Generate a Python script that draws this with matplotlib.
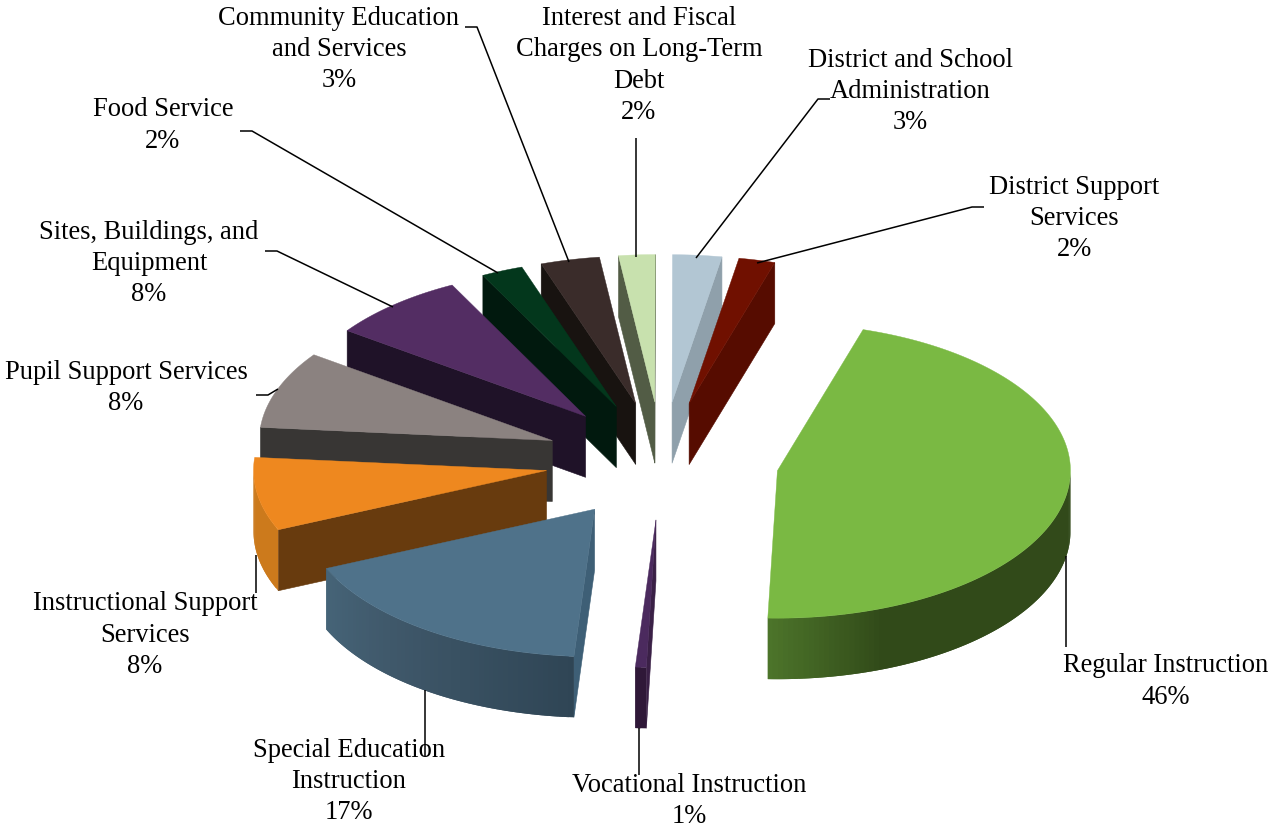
import numpy as np
import matplotlib
matplotlib.use("Agg")
import matplotlib.pyplot as plt
from matplotlib.collections import PolyCollection
from matplotlib.colors import to_rgb

# Budget shares in percent, clockwise from the first slice; labels show them rounded
categories = [
    "Regular Instruction", "Vocational Instruction",
    "Special Education\nInstruction", "Instructional Support\nServices",
    "Pupil Support Services", "Sites, Buildings, and\nEquipment",
    "Food Service", "Community Education\nand Services",
    "Interest and Fiscal\nCharges on Long-Term\nDebt",
    "District and School\nAdministration", "District Support\nServices",
]
shares = [45.8, 0.6, 17.3, 8.0, 8.45, 7.6, 2.3, 3.25, 2.0, 2.7, 2.0]

top_colors = ["#7AB943", "#4B2A5E", "#4F728A", "#EE881F", "#8B8280", "#532D63",
              "#03371C", "#3A2C2A", "#C8E1AE", "#B2C6D3", "#701000"]
side_colors = ["#314A19", "#3A2046", "#3E5F76", "#683B0E", "#383634", "#1F1228",
               "#01190E", "#181310", "#525C45", "#8FA0AB", "#560C00"]
# Colour ramps of the curved rim: (angle in degrees, colour)
rim_ramps = {
    0: [(90, "#324A1A"), (159, "#314A19"), (183, "#4E772B")],
    1: [(180, "#2F1838"), (190, "#2F1838")],
    2: [(184, "#2F4555"), (225, "#40596B"), (248, "#466579")],
    3: [(247, "#CC7A1C"), (276, "#CC7A1C")],
}

# Pie projection, in canvas pixels
FIRST_ANGLE = 17.0
CENTER_X, CENTER_Y = 662.0, 461.0
RADIUS_X, RADIUS_Y = 293.0, 147.5
EXPLODE_X, EXPLODE_Y = 117.0, 59.0
DEPTH = 61.0

# Label placement: centre x, centre y of the text block
label_xy = [(1166, 681.5), (689, 801), (349, 781.5), (145, 635), (126, 388), (149, 263.5),
            (163, 125.5), (339, 49.5), (639, 65.5), (910, 91.5), (1074, 218.5)]
# Leader lines drawn from each label to its slice
leaders = [
    [(1066, 556), (1066, 647)],
    [(639, 728), (639, 775)],
    [(425, 690), (425, 756)],
    [(256, 555), (256, 593)],
    [(256, 395), (268, 395), (278, 389)],
    [(265, 251), (277, 251), (393, 307)],
    [(240, 131), (252, 131), (498, 273)],
    [(465, 27), (477, 27), (569, 262)],
    [(636, 138), (636, 257)],
    [(830, 99), (818, 99), (696, 258)],
    [(984, 207), (972, 207), (757, 263)],
]

fig = plt.figure(figsize=(12.69, 8.27), dpi=100)
ax = fig.add_axes([0, 0, 1, 1])
ax.set_xlim(0, 1269)
ax.set_ylim(827, 0)
ax.axis("off")


def rim_point(apex, deg):
    rad = np.radians(deg)
    return apex[0] + RADIUS_X * np.sin(rad), apex[1] - RADIUS_Y * np.cos(rad)


def ramp_color(stops, deg):
    angles = [s[0] for s in stops]
    rgb = np.array([to_rgb(s[1]) for s in stops])
    return tuple(np.interp(deg, angles, rgb[:, i]) for i in range(3))


def draw_slice(index, start, end, z):
    mid = np.radians((start + end) / 2)
    apex = (CENTER_X + EXPLODE_X * np.sin(mid), CENTER_Y - EXPLODE_Y * np.cos(mid))
    side = side_colors[index]

    # Straight cut faces that turn towards the viewer
    faces = []
    if np.sin(np.radians(start)) < 0:
        faces.append(start)
    if np.sin(np.radians(end)) > 0:
        faces.append(end)
    for deg in faces:
        p = rim_point(apex, deg)
        ax.fill([apex[0], p[0], p[0], apex[0]],
                [apex[1], p[1], p[1] + DEPTH, apex[1] + DEPTH],
                color=side, lw=0.4, zorder=z)

    # Curved rim on the near half; each band runs under the next to hide seams
    low, high = max(start, 90.0), min(end, 270.0)
    if high > low:
        steps = np.linspace(low, high, max(int(high - low), 2) + 1)
        stops = rim_ramps.get(index, [(0, side), (360, side)])
        polys, colors = [], []
        for k in range(len(steps) - 1):
            arc = np.linspace(steps[k], steps[min(k + 2, len(steps) - 1)], 6)
            xs, ys = rim_point(apex, arc)
            polys.append(np.c_[np.r_[xs, xs[::-1]], np.r_[ys, ys[::-1] + DEPTH]])
            colors.append(ramp_color(stops, (steps[k] + steps[k + 1]) / 2))
        ax.add_collection(PolyCollection(polys, facecolors=colors, edgecolors="none",
                                         zorder=z + 0.1))

    # Top face
    arc = np.linspace(start, end, max(int(end - start) * 2, 4) + 1)
    xs, ys = rim_point(apex, arc)
    ax.fill(np.r_[apex[0], xs], np.r_[apex[1], ys], color=top_colors[index],
            lw=0.3, zorder=z + 0.2)


edges = FIRST_ANGLE + np.r_[0, np.cumsum(shares)] * 3.6
mids = (edges[:-1] + edges[1:]) / 2
# Far slices are painted first so that nearer ones overlap them
for rank, i in enumerate(np.argsort(-np.cos(np.radians(mids)))):
    draw_slice(i, edges[i], edges[i + 1], 2 + rank)

for path in leaders:
    xs, ys = zip(*path)
    ax.plot(xs, ys, color="black", lw=1.1, zorder=30, solid_capstyle="butt")

for name, share, (x, y) in zip(categories, shares, label_xy):
    ax.text(x, y, f"{name}\n{round(share)}%", ha="center", va="center", ma="center",
            family="Liberation Serif", fontsize=19.1, linespacing=1.32,
            color="black", zorder=40)

fig.savefig("out.png", dpi=100)
